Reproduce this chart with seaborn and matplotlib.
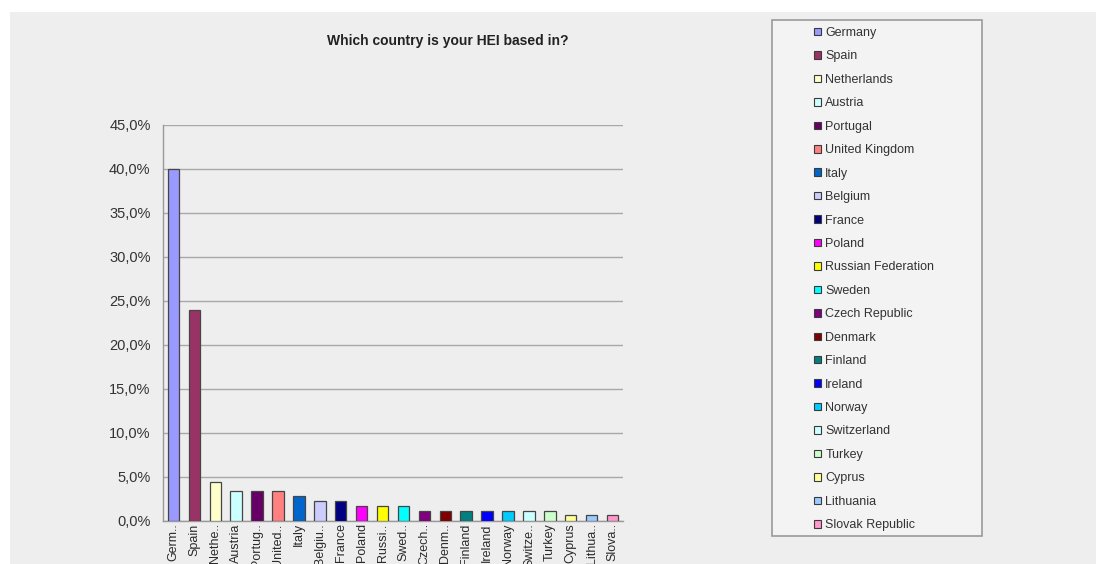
import matplotlib
matplotlib.use("Agg")
import matplotlib.pyplot as plt
from matplotlib.patches import Rectangle, Patch
from matplotlib.ticker import FuncFormatter, FixedLocator
import pandas as pd
import seaborn as sns

countries = ["Germany", "Spain", "Netherlands", "Austria", "Portugal", "United Kingdom",
             "Italy", "Belgium", "France", "Poland", "Russian Federation", "Sweden",
             "Czech Republic", "Denmark", "Finland", "Ireland", "Norway", "Switzerland",
             "Turkey", "Cyprus", "Lithuania", "Slovak Republic"]
short_labels = ["Germ..", "Spain", "Nethe..", "Austria", "Portug..", "United..",
                "Italy", "Belgiu..", "France", "Poland", "Russi..", "Swed..",
                "Czech..", "Denm..", "Finland", "Ireland", "Norway", "Switze..",
                "Turkey", "Cyprus", "Lithua..", "Slova.."]
shares = [0.400, 0.239, 0.044, 0.033, 0.033, 0.033,
          0.028, 0.022, 0.022, 0.017, 0.017, 0.017,
          0.011, 0.011, 0.011, 0.011, 0.011, 0.011,
          0.011, 0.006, 0.006, 0.006]
colors = ["#9999FF", "#993366", "#FFFFCC", "#CCFFFF", "#660066", "#FF8080",
          "#0066CC", "#CCCCFF", "#000080", "#FF00FF", "#FFFF00", "#00FFFF",
          "#800080", "#800000", "#008080", "#0000FF", "#00CCFF", "#CCFFFF",
          "#CCFFCC", "#FFFF99", "#99CCFF", "#FF99CC"]
title = "Which country is your HEI based in?"

df = pd.DataFrame({"country": countries, "share": shares})

sns.set_theme(style="white")
plt.rcParams["font.family"] = ["Liberation Sans", "DejaVu Sans"]

W, H = 1096, 564
fig = plt.figure(figsize=(W / 100, H / 100), dpi=100, facecolor="white")

def fx(px):
    return px / W

def fy(py):
    return 1 - py / H

# grey chart area
fig.patches.append(Rectangle((fx(10), 0), 1 - fx(10), fy(12), transform=fig.transFigure,
                             facecolor="#EEEEEE", edgecolor="none", zorder=-2))

ax = fig.add_axes([fx(163), fy(520.5), fx(623) - fx(163), fy(125) - fy(520.5)])
ax.set_facecolor("none")
ax.set_zorder(3)

sns.barplot(data=df, x="country", y="share", hue="country", palette=colors,
            saturation=1, legend=False, width=0.55, edgecolor="#454545",
            linewidth=0.9, ax=ax, zorder=3)

ax.set_ylim(0, 0.45)
ax.set_xlim(-0.5, len(countries) - 0.5)
ax.set_yticks([i * 0.05 for i in range(10)])
ax.yaxis.set_major_formatter(FuncFormatter(lambda v, _: f"{v * 100:.1f}%".replace(".", ",")))
ax.grid(axis="y", color="#A8A8A8", linewidth=1.0, zorder=1)
ax.set_axisbelow(True)

ax.set_xticks(range(len(countries)))
ax.set_xticklabels(short_labels, rotation=90, fontsize=9, color="#2A2A2A",
                   va="top", ha="center")
ax.xaxis.set_minor_locator(FixedLocator([i + 0.5 for i in range(-1, len(countries))]))
ax.tick_params(axis="x", which="major", length=0, pad=2)
ax.tick_params(axis="x", which="minor", length=4, width=0.8, color="#999999", direction="out")
ax.tick_params(axis="y", length=5, width=0.8, color="#999999", direction="out",
               labelsize=10.5, labelcolor="#333333", pad=4)
ax.set_xlabel("")
ax.set_ylabel("")

for side in ("top", "right"):
    ax.spines[side].set_visible(False)
for side in ("left", "bottom"):
    ax.spines[side].set_color("#999999")
    ax.spines[side].set_linewidth(1.0)

fig.text(fx(448), fy(41), title, ha="center", va="center", fontsize=10,
         fontweight="bold", color="#222222")

# legend box
fig.patches.append(Rectangle((fx(772), fy(536)), fx(982) - fx(772), fy(20) - fy(536),
                             transform=fig.transFigure, facecolor="#F3F3F3",
                             edgecolor="#9A9A9A", linewidth=1.2, zorder=-1))
handles = [Patch(facecolor=c, edgecolor="#3A3A3A", linewidth=0.8) for c in colors]
leg = fig.legend(handles, countries, loc="upper left",
                 bbox_to_anchor=(fx(814), fy(27)), bbox_transform=fig.transFigure,
                 frameon=False, fontsize=9, labelspacing=0.915, handlelength=0.55,
                 handleheight=0.55, handletextpad=0.35, borderpad=0, borderaxespad=0)
for t in leg.get_texts():
    t.set_color("#333333")
leg.set_zorder(4)

fig.savefig("out.png", dpi=100, facecolor="white")
